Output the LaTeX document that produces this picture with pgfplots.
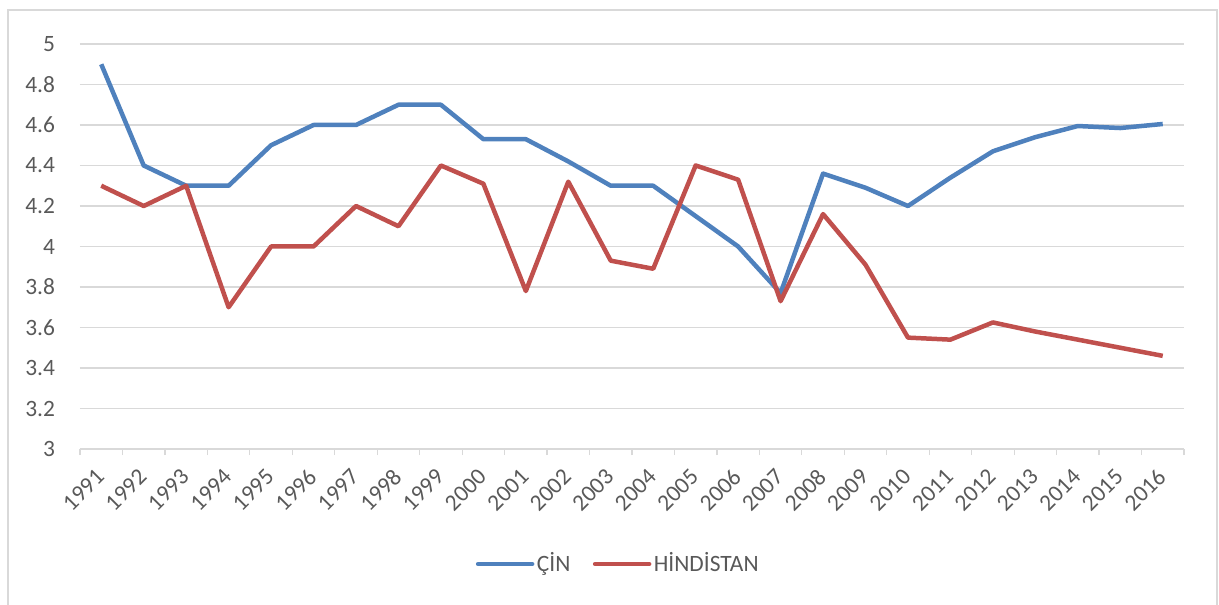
\documentclass[border=0pt]{standalone}
\usepackage{fontspec}
\setmainfont{Carlito}
\usepackage{pgfplots}
\pgfplotsset{compat=1.18}
\definecolor{cblue}{HTML}{4F81BD}
\definecolor{cred}{HTML}{C0504D}
\definecolor{gridgray}{HTML}{D9D9D9}
\definecolor{textgray}{HTML}{595959}
\begin{document}
\fontsize{23.5}{28}\selectfont
\begin{tikzpicture}
\path[use as bounding box] (0bp,0bp) rectangle (1219bp,605bp);
\draw[gridgray, line width=1.2bp] (8bp,-5bp) rectangle (1217bp,595bp);
\begin{axis}[
  at={(80bp,156bp)}, anchor=south west,
  scale only axis, width=1104bp, height=405bp,
  xmin=-0.5, xmax=25.5, ymin=3, ymax=5,
  axis line style={draw=none},
  xtick={0,...,25},
  xticklabels={1991,1992,1993,1994,1995,1996,1997,1998,1999,2000,2001,2002,2003,2004,2005,2006,2007,2008,2009,2010,2011,2012,2013,2014,2015,2016},
  minor xtick={-0.5,0.5,...,25.5},
  xtick pos=bottom, ytick pos=left,
  tick align=outside,
  major tick length=0pt, minor tick length=6bp,
  every minor tick/.style={gridgray, line width=1.2bp},
  ytick={3,3.2,3.4,3.6,3.8,4,4.2,4.4,4.6,4.8,5},
  ymajorgrids,
  grid style={gridgray, line width=1.2bp},
  /pgf/number format/assume math mode=true,
  yticklabel style={/pgf/number format/fixed, /pgf/number format/precision=1, text=textgray, xshift=-17bp},
  xticklabel style={yshift=-24bp, xshift=-1bp, rotate=45, anchor=east, inner sep=0pt, text=textgray},
  legend columns=2,
  legend style={draw=none, fill=none, at={(0.4878,-0.284)}, anchor=center,
    nodes={inner sep=2.5bp, text=textgray},
    /tikz/every even column/.append style={column sep=20bp}},
  legend image code/.code={\draw[#1, line cap=round] (0bp,0bp) -- (54bp,0bp);},
  every axis plot/.append style={line width=4.5bp, line join=round, mark=none},
]
\addplot[cblue] coordinates {
(0,4.9) (1,4.4) (2,4.3) (3,4.3) (4,4.5) (5,4.6) (6,4.6) (7,4.7) (8,4.7) (9,4.53)
(10,4.53) (11,4.42) (12,4.3) (13,4.3) (14,4.15) (15,4.0) (16,3.77) (17,4.36) (18,4.29) (19,4.2)
(20,4.34) (21,4.47) (22,4.54) (23,4.595) (24,4.585) (25,4.605)};
\addlegendentry{ÇİN}
\addplot[cred] coordinates {
(0,4.3) (1,4.2) (2,4.3) (3,3.7) (4,4.0) (5,4.0) (6,4.2) (7,4.1) (8,4.4) (9,4.31)
(10,3.78) (11,4.32) (12,3.93) (13,3.89) (14,4.4) (15,4.33) (16,3.73) (17,4.16) (18,3.91) (19,3.55)
(20,3.54) (21,3.625) (22,3.58) (23,3.54) (24,3.50) (25,3.46)};
\addlegendentry{HİNDİSTAN}
\end{axis}
\end{tikzpicture}
\end{document}
